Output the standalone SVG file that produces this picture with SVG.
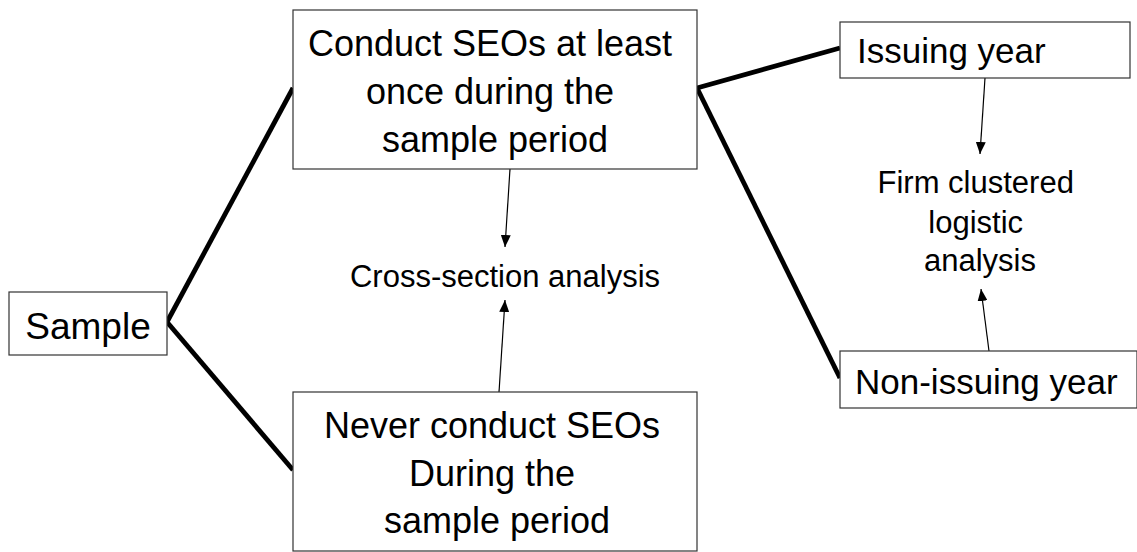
<svg xmlns="http://www.w3.org/2000/svg" width="1137" height="552" viewBox="0 0 1137 552">
  <style>
    .box { fill: #ffffff; stroke: #333333; stroke-width: 1.2; }
    .txt { font-family: "Liberation Sans", Arial, sans-serif; fill: #000000; }
    .branch { stroke: #000000; stroke-width: 4.8; fill: none; stroke-linecap: butt; }
    .arrow { stroke: #000000; stroke-width: 1.2; fill: none; marker-end: url(#head); }
  </style>
  <defs>
    <marker id="head" viewBox="0 0 12 10" refX="12" refY="5" markerWidth="12" markerHeight="10" markerUnits="userSpaceOnUse" orient="auto">
      <path d="M0,0 L12,5 L0,10 Z" fill="#000000"/>
    </marker>
  </defs>
  <rect width="1137" height="552" fill="#ffffff"/>

  <g id="connectors">
    <!-- thick branching lines -->
    <line class="branch" x1="167" y1="322" x2="293" y2="88"/>
    <line class="branch" x1="167" y1="322" x2="293" y2="470"/>
    <line class="branch" x1="697" y1="88" x2="840" y2="48"/>
    <line class="branch" x1="697" y1="88" x2="840" y2="378"/>
    <!-- arrows to analysis labels -->
    <line class="arrow" x1="510" y1="169" x2="505" y2="247"/>
    <line class="arrow" x1="499" y1="392" x2="505" y2="300"/>
    <line class="arrow" x1="985" y1="78" x2="980" y2="154"/>
    <line class="arrow" x1="989" y1="351" x2="981" y2="289"/>
  </g>

  <g id="sample">
    <rect class="box" x="9" y="292" width="158" height="63"/>
    <text class="txt" x="88" y="339" font-size="37" text-anchor="middle">Sample</text>
  </g>

  <g id="conduct">
    <rect class="box" x="293" y="10" width="404" height="159"/>
    <text class="txt" font-size="36" text-anchor="middle">
      <tspan x="495" y="56">Conduct SEOs at least</tspan>
      <tspan x="495" y="104">once during the</tspan>
      <tspan x="495" y="152">sample period</tspan>
    </text>
  </g>

  <g id="never">
    <rect class="box" x="293" y="392" width="404" height="159"/>
    <text class="txt" font-size="36" text-anchor="middle">
      <tspan x="497" y="438">Never conduct SEOs</tspan>
      <tspan x="497" y="486">During the</tspan>
      <tspan x="497" y="533">sample period</tspan>
    </text>
  </g>

  <g id="cross-section">
    <text class="txt" x="505" y="287" font-size="31" text-anchor="middle">Cross-section analysis</text>
  </g>

  <g id="issuing">
    <rect class="box" x="840" y="22" width="290" height="56"/>
    <text class="txt" x="857" y="63" font-size="35">Issuing year</text>
  </g>

  <g id="non-issuing">
    <rect class="box" x="840" y="351" width="297" height="57"/>
    <text class="txt" x="855" y="394" font-size="35">Non-issuing year</text>
  </g>

  <g id="logistic">
    <text class="txt" font-size="31" text-anchor="middle">
      <tspan x="980" y="193">Firm clustered</tspan>
      <tspan x="980" y="233">logistic</tspan>
      <tspan x="980" y="271">analysis</tspan>
    </text>
  </g>
</svg>
